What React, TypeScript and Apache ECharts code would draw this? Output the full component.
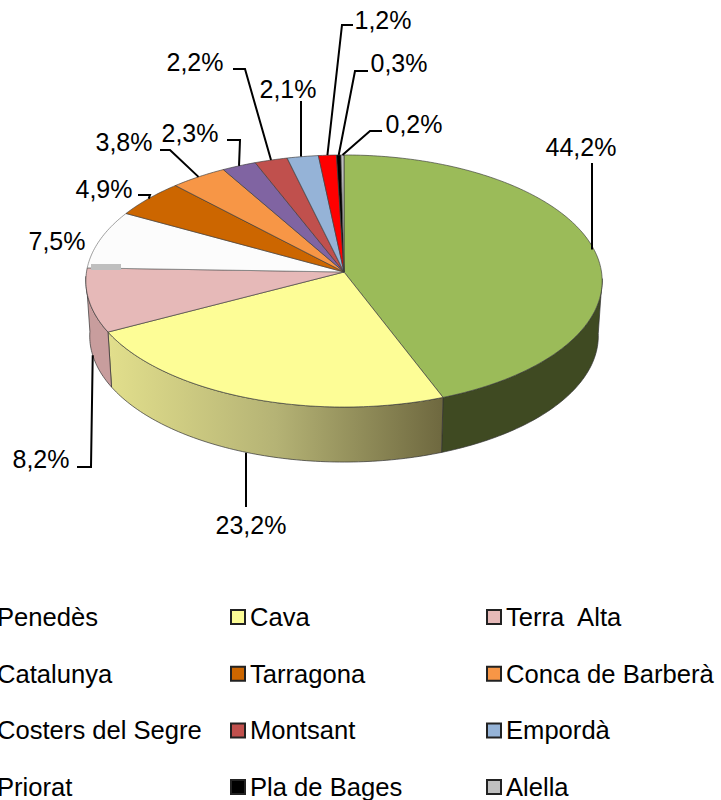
import React, { useEffect, useRef } from "react";
import * as echarts from "echarts";

const names = ["Penedès", "Cava", "Terra  Alta", "Catalunya", "Tarragona", "Conca de Barberà", "Costers del Segre", "Montsant", "Empordà", "Priorat", "Pla de Bages", "Alella"];
const values = [44.2, 23.2, 8.2, 7.5, 4.9, 3.8, 2.3, 2.2, 2.1, 1.2, 0.3, 0.2];
const colors = ["#9BBB59", "#FDFD96", "#E6B9B8", "#FCFCFC", "#CC6600", "#F79646", "#8064A2", "#C0504D", "#95B3D7", "#FF0000", "#000000", "#BFBFBF"];
const legendColumns = [
  ["Penedès", "Catalunya", "Costers del Segre", "Priorat"],
  ["Cava", "Tarragona", "Montsant", "Pla de Bages"],
  ["Terra  Alta", "Conca de Barberà", "Empordà", "Alella"],
];

// label layout: centre of label, then the elbow points of its leader line
const labelAt: number[][] = [[581, 147], [251, 525], [41, 459], [57, 241], [104, 189], [124, 142], [190, 133], [195, 62], [288, 89], [383, 20], [399, 63], [414, 124]];
const leaders: number[][][] = [
  [[592, 163]],
  [[246, 507]],
  [[77, 467], [91, 467]],
  [],
  [[138, 195], [150, 195]],
  [[160, 150], [170, 150]],
  [[227, 140], [240, 140]],
  [[233, 69], [245, 69]],
  [[301, 101]],
  [[353, 25], [342, 25]],
  [[368, 71], [355, 71]],
  [[382, 131], [370, 131]],
];

const CX = 344, CY = 272, RX = 257.5, RY = 125.4, K = 0.0714, DEPTH = 55, BOTTOM_SCALE = 0.985;
const rad = (d: number) => (d * Math.PI) / 180;
const rim = (deg: number) => {
  const u = Math.sin(rad(deg));
  const v = -Math.cos(rad(deg));
  const w = 1 - K * v;
  return [CX + (RX * u) / w, CY + (RY * v) / w];
};
const lowerRim = (deg: number) => {
  const [x, y] = rim(deg);
  return [CX + (x - CX) * BOTTOM_SCALE, y + DEPTH];
};
const total = values.reduce((a, b) => a + b, 0);
const startDeg = (i: number) => (values.slice(0, i).reduce((a, b) => a + b, 0) / total) * 360;
const endDeg = (i: number) => startDeg(i + 1);
const arcRange = (a: number, b: number) => {
  const out: number[] = [];
  for (let d = a; d < b; d += 1) out.push(d);
  out.push(b);
  return out;
};
const SIDE_MIN = 93, SIDE_MAX = 268;

const sideFill = (i: number) => {
  if (i === 0) return "#3F4A22";
  if (i === 1)
    return new echarts.graphic.LinearGradient(0, 0, 1, 0, [
      { offset: 0, color: "#E2DF8C" },
      { offset: 0.5, color: "#B5B375" },
      { offset: 1, color: "#6E683F" },
    ]);
  return "#C89D9D";
};

const makeItem = (i: number) => () => {
  const a = startDeg(i), b = endDeg(i), mid = (a + b) / 2;
  const children: any[] = [];
  const sa = Math.max(a, SIDE_MIN), sb = Math.min(b, SIDE_MAX);
  if (sa < sb) {
    const arc = arcRange(sa, sb);
    children.push({
      type: "polygon",
      z2: 1,
      shape: { points: [...arc.map(rim), ...arc.slice().reverse().map(lowerRim)] },
      style: { fill: sideFill(i), stroke: "rgba(50,50,50,0.7)", lineWidth: 1 },
    });
  }
  children.push({
    type: "polygon",
    z2: 2,
    shape: { points: [[CX, CY], ...arcRange(a, b).map(rim)] },
    style: { fill: colors[i], stroke: i === 3 ? "rgba(120,120,120,0.7)" : "rgba(60,60,60,0.65)", lineWidth: 1 },
  });
  if (leaders[i].length) {
    const front = mid > SIDE_MIN && mid < SIDE_MAX;
    const anchor = front ? lowerRim(mid) : rim(mid);
    const pts = leaders[i];
    const end = pts.length === 1 ? [pts[0][0], anchor[1]] : anchor;
    children.push({
      type: "polyline",
      z2: 3,
      shape: { points: [...pts, end] },
      style: { fill: "none", stroke: "#000", lineWidth: 2 },
    });
  }
  children.push({
    type: "text",
    z2: 4,
    style: {
      text: String(values[i]).replace(".", ",") + "%",
      x: labelAt[i][0],
      y: labelAt[i][1],
      fill: "#000",
      font: "25px 'Liberation Sans', Arial, sans-serif",
      align: "center",
      verticalAlign: "middle",
    },
  });
  return { type: "group", children };
};

const legendLeft = [-23, 230, 486];

export default function App() {
  const ref = useRef<HTMLDivElement>(null);
  useEffect(() => {
    document.body.style.margin = "0";
    const chart = echarts.init(ref.current!, undefined, { renderer: "svg" });
    chart.setOption({
      animation: false,
      backgroundColor: "#fff",
      legend: legendColumns.map((col, c) => ({
        orient: "vertical",
        left: legendLeft[c],
        top: 602,
        height: 300,
        padding: 0,
        selectedMode: false,
        itemWidth: 14,
        itemHeight: 14,
        itemGap: 26.7,
        icon: "rect",
        textStyle: { fontFamily: "'Liberation Sans', Arial, sans-serif", fontSize: 25.6, color: "#000", lineHeight: 30 },
        data: col.map((name) => ({
          name,
          itemStyle: { color: colors[names.indexOf(name)], borderColor: "#222", borderWidth: 2 },
        })),
      })),
      graphic: [
        { type: "rect", z: 10, shape: { x: 91, y: 264, width: 30, height: 6 }, style: { fill: "#BFBFBF" } },
      ],
      series: names.map((name, i) => ({
        type: "custom",
        name,
        coordinateSystem: "none",
        itemStyle: { color: colors[i] },
        renderItem: makeItem(i),
        data: [[values[i]]],
        silent: true,
      })),
    });
    return () => chart.dispose();
  }, []);
  return <div ref={ref} style={{ width: 721, height: 800 }} />;
}
